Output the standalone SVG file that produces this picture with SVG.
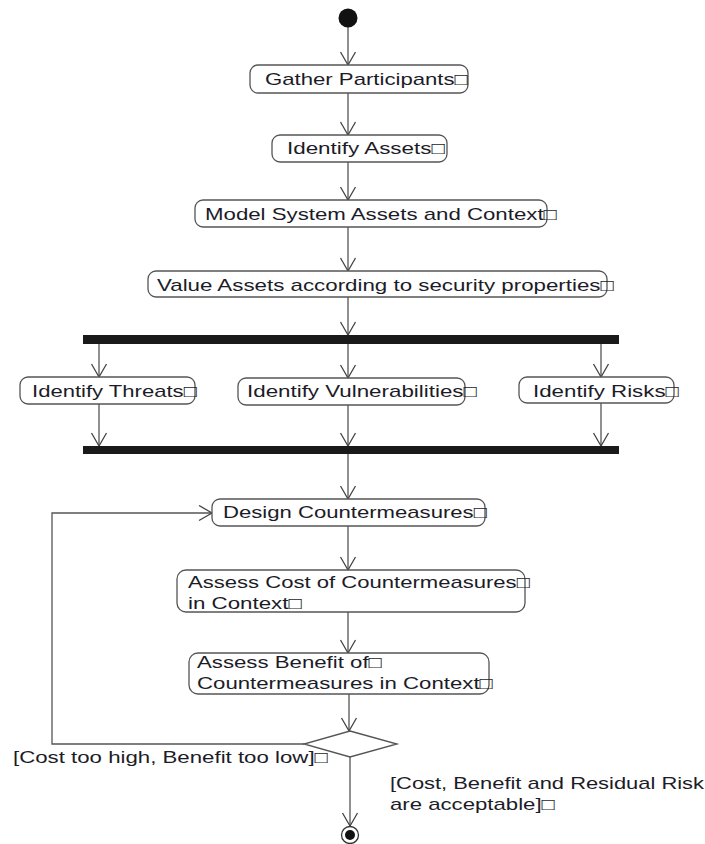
<svg xmlns="http://www.w3.org/2000/svg" width="705" height="844" viewBox="0 0 705 844">
<defs>
<style>
.box{fill:#fff;stroke:#555;stroke-width:1.3}
.t{font-family:"Liberation Sans",Arial,"DejaVu Sans",sans-serif;font-size:17px;fill:#1c1c28}
.c{fill:none;stroke:#555;stroke-width:1.3}
.bar{fill:#1a1a1a}
</style>
<marker id="arr" markerUnits="userSpaceOnUse" markerWidth="16" markerHeight="18" viewBox="-1 -1 16 18" refX="13" refY="7.5" orient="auto">
<path d="M0,0 L13,7.5 L0,15" fill="none" stroke="#444" stroke-width="1.3"/>
</marker>
</defs>
<rect width="705" height="844" fill="#fff"/>

<g id="connectors">
<line class="c" x1="348" y1="27" x2="348" y2="65" marker-end="url(#arr)"/>
<line class="c" x1="348" y1="93" x2="348" y2="135" marker-end="url(#arr)"/>
<line class="c" x1="348" y1="162" x2="348" y2="200" marker-end="url(#arr)"/>
<line class="c" x1="348" y1="227" x2="348" y2="271" marker-end="url(#arr)"/>
<line class="c" x1="348" y1="297" x2="348" y2="335" marker-end="url(#arr)"/>
<line class="c" x1="99" y1="344" x2="99" y2="377" marker-end="url(#arr)"/>
<line class="c" x1="348" y1="344" x2="348" y2="378" marker-end="url(#arr)"/>
<line class="c" x1="601" y1="344" x2="601" y2="377" marker-end="url(#arr)"/>
<line class="c" x1="99" y1="404" x2="99" y2="446" marker-end="url(#arr)"/>
<line class="c" x1="348" y1="405" x2="348" y2="446" marker-end="url(#arr)"/>
<line class="c" x1="601" y1="403" x2="601" y2="446" marker-end="url(#arr)"/>
<line class="c" x1="348" y1="454" x2="348" y2="499" marker-end="url(#arr)"/>
<line class="c" x1="348" y1="526" x2="348" y2="570" marker-end="url(#arr)"/>
<line class="c" x1="348" y1="612" x2="348" y2="653" marker-end="url(#arr)"/>
<line class="c" x1="349" y1="694" x2="349" y2="731" marker-end="url(#arr)"/>
<line class="c" x1="350" y1="757" x2="350" y2="826" marker-end="url(#arr)"/>
<polyline class="c" points="304,744 52,744 52,513 212,513" marker-end="url(#arr)"/>
</g>

<g id="start"><circle cx="348" cy="18" r="9.5" fill="#111"/></g>

<g id="gather">
<rect class="box" x="250" y="65" width="218" height="28" rx="8"/>
<text class="t" transform="scale(1.27,1)" x="208.66" y="85" textLength="159.84" lengthAdjust="spacingAndGlyphs">Gather Participants□</text>
</g>
<g id="identify-assets">
<rect class="box" x="272" y="135" width="175" height="27" rx="8"/>
<text class="t" transform="scale(1.27,1)" x="225.98" y="154" textLength="124.41" lengthAdjust="spacingAndGlyphs">Identify Assets□</text>
</g>
<g id="model-system">
<rect class="box" x="195" y="200" width="352" height="27" rx="8"/>
<text class="t" transform="scale(1.27,1)" x="161.42" y="220" textLength="277.17" lengthAdjust="spacingAndGlyphs">Model System Assets and Context□</text>
</g>
<g id="value-assets">
<rect class="box" x="148" y="271" width="459" height="26" rx="8"/>
<text class="t" transform="scale(1.27,1)" x="123.62" y="291" textLength="359.84" lengthAdjust="spacingAndGlyphs">Value Assets according to security properties□</text>
</g>

<g id="fork"><rect class="bar" x="83" y="335" width="536" height="9"/></g>

<g id="identify-threats">
<rect class="box" x="20" y="377" width="175" height="27" rx="8"/>
<text class="t" transform="scale(1.27,1)" x="25.2" y="397" textLength="129.92" lengthAdjust="spacingAndGlyphs">Identify Threats□</text>
</g>
<g id="identify-vulnerabilities">
<rect class="box" x="238" y="378" width="227" height="27" rx="8"/>
<text class="t" transform="scale(1.27,1)" x="194.49" y="397" textLength="181.1" lengthAdjust="spacingAndGlyphs">Identify Vulnerabilities□</text>
</g>
<g id="identify-risks">
<rect class="box" x="519" y="377" width="155" height="26" rx="8"/>
<text class="t" transform="scale(1.27,1)" x="419.69" y="397" textLength="114.96" lengthAdjust="spacingAndGlyphs">Identify Risks□</text>
</g>

<g id="join"><rect class="bar" x="83" y="446" width="536" height="8"/></g>

<g id="design">
<rect class="box" x="212" y="499" width="273" height="27" rx="8"/>
<text class="t" transform="scale(1.27,1)" x="175.59" y="518" textLength="207.87" lengthAdjust="spacingAndGlyphs">Design Countermeasures□</text>
</g>
<g id="assess-cost">
<rect class="box" x="177" y="570" width="348" height="42" rx="9"/>
<text class="t" transform="scale(1.27,1)" x="148.03" y="588" textLength="269.29" lengthAdjust="spacingAndGlyphs">Assess Cost of Countermeasures□</text>
<text class="t" transform="scale(1.27,1)" x="148.03" y="609" textLength="89.76" lengthAdjust="spacingAndGlyphs">in Context□</text>
</g>
<g id="assess-benefit">
<rect class="box" x="189" y="653" width="300" height="41" rx="9"/>
<text class="t" transform="scale(1.27,1)" x="155.12" y="668" textLength="145.67" lengthAdjust="spacingAndGlyphs">Assess Benefit of□</text>
<text class="t" transform="scale(1.27,1)" x="155.12" y="689" textLength="233.07" lengthAdjust="spacingAndGlyphs">Countermeasures in Context□</text>
</g>

<g id="decision">
<polygon points="350,731 397,744 350,757 304,744" fill="#fff" stroke="#555" stroke-width="1.3"/>
<text class="t" transform="scale(1.27,1)" x="10.24" y="763" textLength="248.03" lengthAdjust="spacingAndGlyphs">[Cost too high, Benefit too low]□</text>
<text class="t" transform="scale(1.27,1)" x="307.09" y="789" textLength="247.24" lengthAdjust="spacingAndGlyphs">[Cost, Benefit and Residual Risk</text>
<text class="t" transform="scale(1.27,1)" x="307.09" y="810" textLength="129.92" lengthAdjust="spacingAndGlyphs">are acceptable]□</text>
</g>

<g id="end">
<circle cx="350" cy="835" r="8.5" fill="#fff" stroke="#333" stroke-width="1.3"/>
<circle cx="350" cy="835" r="5" fill="#111"/>
</g>
</svg>
